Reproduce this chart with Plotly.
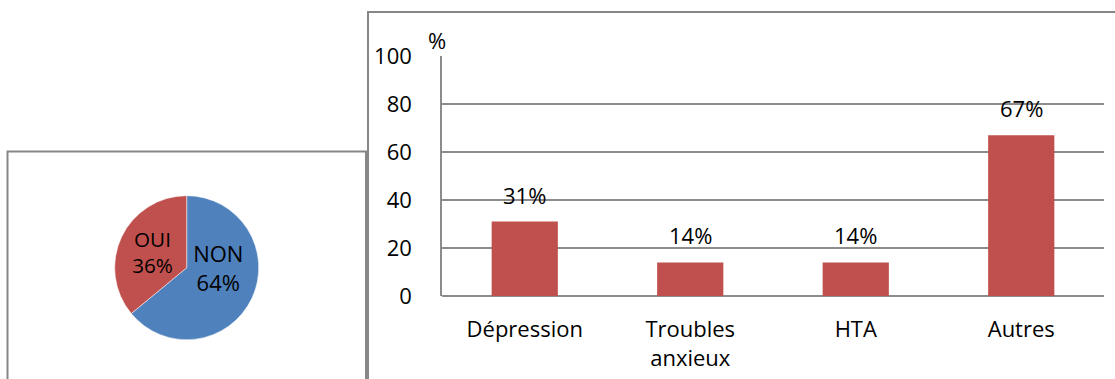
import plotly.graph_objects as go

# Pie: answer split
pie_labels = ["NON", "OUI"]
pie_values = [64, 36]
pie_colors = ["#4F81BD", "#C0504D"]

# Bars: share of each condition (%)
categories = ["Dépression", "Troubles<br>anxieux", "HTA", "Autres"]
values = [31, 14, 14, 67]
y_ticks = [0, 20, 40, 60, 80, 100]

W, H = 1115, 379
FONT = "Open Sans"
FS = 22
GRID = "#8c8c8c"

fig = go.Figure()

fig.add_trace(go.Pie(
    labels=pie_labels,
    values=pie_values,
    text=[f"{l}<br>{v}%" for l, v in zip(pie_labels, pie_values)],
    textinfo="text",
    textposition="inside",
    insidetextorientation="horizontal",
    sort=False,
    direction="clockwise",
    rotation=0,
    marker=dict(colors=pie_colors, line=dict(color="white", width=0.5)),
    textfont=dict(family=FONT, size=FS, color="black"),
    domain=dict(x=[114.7 / W, 258.7 / W], y=[1 - 339.7 / H, 1 - 195.7 / H]),
    showlegend=False,
    hoverinfo="label+percent",
))

fig.add_trace(go.Bar(
    x=categories,
    y=values,
    marker=dict(color="#C0504D", line=dict(width=0)),
    width=0.4,
    showlegend=False,
    xaxis="x",
    yaxis="y",
))

# value labels above bars
for c, v in zip(categories, values):
    fig.add_annotation(
        x=c, y=v, xref="x", yref="y",
        text=f"{v}%", showarrow=False,
        yanchor="middle", yshift=27,
        font=dict(family=FONT, size=FS, color="black"),
    )

# "%" unit label
fig.add_annotation(
    x=437 / W, y=1 - 40 / H, xref="paper", yref="paper",
    text="%", showarrow=False, xanchor="center", yanchor="middle",
    font=dict(family=FONT, size=FS, color="black"),
)

# frames around the two charts
fig.add_shape(type="rect", xref="paper", yref="paper",
              x0=7.5 / W, x1=366 / W, y0=-0.05, y1=1 - 151.5 / H,
              line=dict(color="#878787", width=2), fillcolor="rgba(0,0,0,0)")
fig.add_shape(type="rect", xref="paper", yref="paper",
              x0=368 / W, x1=1.05, y0=-0.05, y1=1 - 12 / H,
              line=dict(color="#878787", width=2), fillcolor="rgba(0,0,0,0)")

fig.update_layout(
    width=W, height=H,
    margin=dict(l=0, r=0, t=0, b=0, autoexpand=False),
    paper_bgcolor="white",
    plot_bgcolor="white",
    font=dict(family=FONT, size=FS, color="black"),
    xaxis=dict(
        domain=[442 / W, 1104 / W],
        anchor="y",
        automargin=False,
        showgrid=False,
        showline=False,
        ticks="",
        ticklabelstandoff=18,
        tickfont=dict(family=FONT, size=FS, color="black"),
        fixedrange=True,
    ),
    yaxis=dict(
        domain=[1 - 296 / H, 1 - 56 / H],
        anchor="x",
        automargin=False,
        range=[0, 100],
        tickvals=y_ticks,
        showgrid=True,
        gridcolor=GRID,
        gridwidth=1.5,
        showline=True,
        linecolor=GRID,
        linewidth=1.5,
        zeroline=True,
        zerolinecolor=GRID,
        zerolinewidth=1.5,
        ticks="",
        ticklabelstandoff=24,
        tickfont=dict(family=FONT, size=FS, color="black"),
        fixedrange=True,
    ),
)

fig.write_html("out.html")
